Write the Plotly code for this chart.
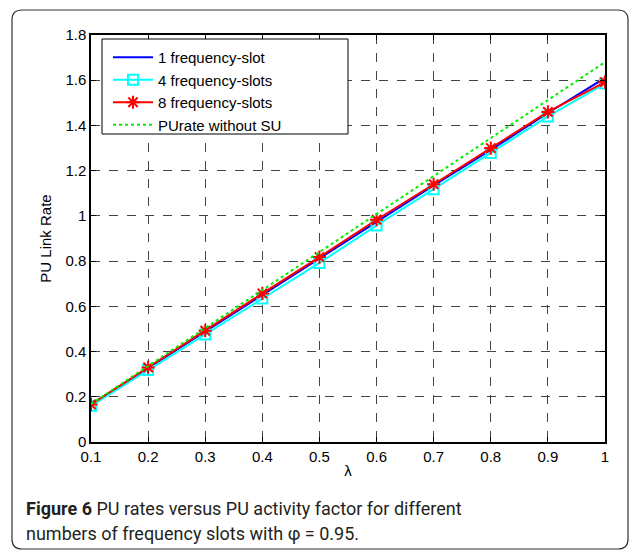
import plotly.graph_objects as go

lam = [0.1, 0.2, 0.3, 0.4, 0.5, 0.6, 0.7, 0.8, 0.9, 1.0]
rate_1slot = [0.165, 0.327, 0.490, 0.652, 0.812, 0.975, 1.135, 1.292, 1.455, 1.610]
rate_4slots = [0.160, 0.318, 0.475, 0.635, 0.792, 0.958, 1.118, 1.278, 1.440, 1.585]
rate_8slots = [0.166, 0.330, 0.492, 0.657, 0.818, 0.983, 1.140, 1.300, 1.460, 1.592]
rate_no_su = [0.168, 0.336, 0.504, 0.672, 0.840, 1.008, 1.176, 1.344, 1.512, 1.680]

x_ticks = [0.1, 0.2, 0.3, 0.4, 0.5, 0.6, 0.7, 0.8, 0.9, 1.0]
x_labels = ["0.1", "0.2", "0.3", "0.4", "0.5", "0.6", "0.7", "0.8", "0.9", "1"]
y_ticks = [0, 0.2, 0.4, 0.6, 0.8, 1.0, 1.2, 1.4, 1.6, 1.8]
y_labels = ["0", "0.2", "0.4", "0.6", "0.8", "1", "1.2", "1.4", "1.6", "1.8"]

W, H = 635, 551
L, R, T, B = 91, 605, 35, 442

fig = go.Figure()
fig.add_trace(go.Scatter(x=lam, y=rate_1slot, mode="lines", name="1 frequency-slot",
                         line=dict(color="#0000ff", width=2)))
fig.add_trace(go.Scatter(x=lam, y=rate_4slots, mode="lines+markers", name="4 frequency-slots",
                         line=dict(color="#00ffff", width=2),
                         marker=dict(symbol="square-open", size=10, color="#00ffff",
                                     line=dict(width=2, color="#00ffff"))))
fig.add_trace(go.Scatter(x=lam, y=rate_8slots, mode="lines+markers", name="8 frequency-slots",
                         line=dict(color="#ff0000", width=2),
                         marker=dict(symbol="asterisk-open", size=11, color="#ff0000",
                                     line=dict(width=2, color="#ff0000"))))
fig.add_trace(go.Scatter(x=lam, y=rate_no_su, mode="lines", name="PUrate without SU",
                         line=dict(color="#00ee00", width=2, dash="dot")))

def px_x(p):
    return (p - L) / (R - L)

def px_y(p):
    return (B - p) / (B - T)

# rounded outer frame
x0, x1, y0, y1, r = 12, 628, 10, 549, 10
path = (f"M {px_x(x0 + r)} {px_y(y0)} L {px_x(x1 - r)} {px_y(y0)} "
        f"Q {px_x(x1)} {px_y(y0)} {px_x(x1)} {px_y(y0 + r)} "
        f"L {px_x(x1)} {px_y(y1 - r)} Q {px_x(x1)} {px_y(y1)} {px_x(x1 - r)} {px_y(y1)} "
        f"L {px_x(x0 + r)} {px_y(y1)} Q {px_x(x0)} {px_y(y1)} {px_x(x0)} {px_y(y1 - r)} "
        f"L {px_x(x0)} {px_y(y0 + r)} Q {px_x(x0)} {px_y(y0)} {px_x(x0 + r)} {px_y(y0)} Z")
fig.add_shape(type="path", path=path, xref="paper", yref="paper",
              line=dict(color="#333333", width=1.2), layer="above")

# legend box (MATLAB-style wide frame)
fig.add_shape(type="rect", xref="paper", yref="paper",
              x0=px_x(102), x1=px_x(348), y0=px_y(134), y1=px_y(39),
              fillcolor="white", line=dict(color="black", width=1), layer="above")

cap_font = dict(family="Roboto, Noto Sans, sans-serif", size=18, color="#231f20")
fig.add_annotation(x=px_x(24), y=px_y(508), xref="paper", yref="paper",
                   xanchor="left", yanchor="middle", showarrow=False,
                   text="<b>Figure 6</b> PU rates versus PU activity factor for different",
                   font=cap_font)
fig.add_annotation(x=px_x(24), y=px_y(533), xref="paper", yref="paper",
                   xanchor="left", yanchor="middle", showarrow=False,
                   text="numbers of frequency slots with φ = 0.95.",
                   font=cap_font)

axis_font = dict(family="Liberation Sans, Arial, sans-serif", size=15, color="#000000")
fig.update_layout(
    width=W, height=H,
    margin=dict(l=L, r=W - R, t=T, b=H - B),
    paper_bgcolor="white", plot_bgcolor="white",
    font=axis_font,
    showlegend=True,
    legend=dict(x=px_x(108), y=px_y(41), xanchor="left", yanchor="top",
                bgcolor="rgba(0,0,0,0)", borderwidth=0,
                font=dict(family="Liberation Sans, Arial, sans-serif", size=15),
                tracegroupgap=0, itemwidth=40),
    xaxis=dict(range=[0.1, 1.0], tickvals=x_ticks, ticktext=x_labels,
               showline=True, linecolor="black", linewidth=1.5, mirror="ticks",
               ticks="inside", ticklen=5, tickcolor="black",
               showgrid=True, gridcolor="#444444", griddash="dash", gridwidth=1,
               zeroline=False,
               title=dict(text="λ", standoff=2, font=axis_font)),
    yaxis=dict(range=[0, 1.8], tickvals=y_ticks, ticktext=y_labels,
               showline=True, linecolor="black", linewidth=1.5, mirror="ticks",
               ticks="inside", ticklen=5, tickcolor="black",
               showgrid=True, gridcolor="#444444", griddash="dash", gridwidth=1,
               zeroline=False,
               title=dict(text="PU Link Rate", standoff=10, font=axis_font)),
)

fig.write_html("out.html", config={"displayModeBar": False},
               post_script="document.body.style.margin='0px';")
